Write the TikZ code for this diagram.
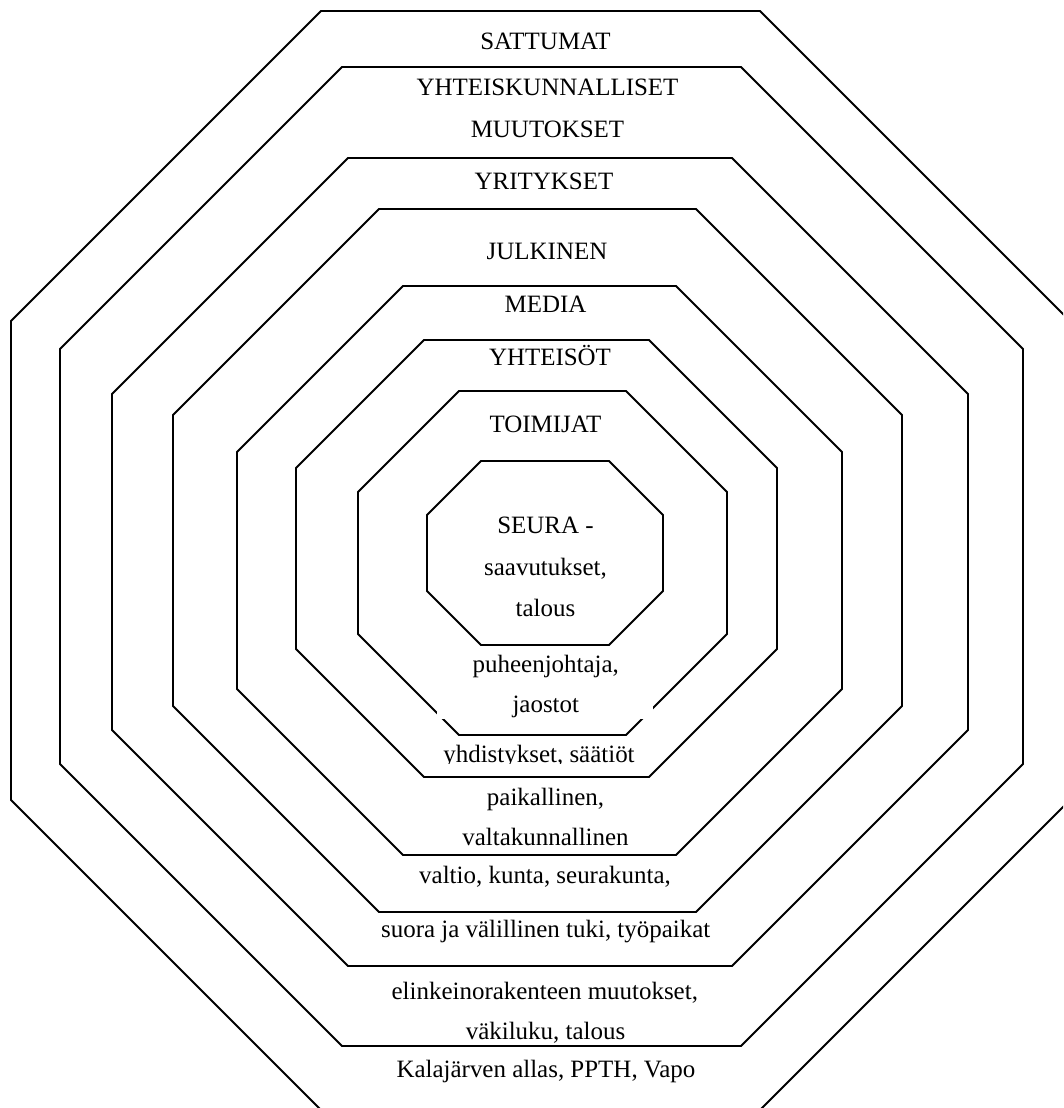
\documentclass[tikz,border=0pt]{standalone}
\usepackage{fontspec}
\setmainfont{Liberation Serif}

\begin{document}
\begin{tikzpicture}[x = 0.1mm, y = -0.1mm, line width = 0.55pt]
    \useasboundingbox (0,0) rectangle (1063,1108);
    \clip (0,0) rectangle (1063,1108);
    \draw [color = black] (321,11) -- (760,11) -- (1070,321) -- (1070,800) -- (760,1110) -- (321,1110) -- (11,800) -- (11,321) -- cycle;
    \draw [color = black] (342,67) -- (741,67) -- (1023,349) -- (1023,764) -- (741,1046) -- (342,1046) -- (60,764) -- (60,349) -- cycle;
    \draw [color = black] (348,158) -- (732,158) -- (968,394) -- (968,730) -- (732,966) -- (348,966) -- (112,730) -- (112,394) -- cycle;
    \draw [color = black] (379,209) -- (696,209) -- (902,415) -- (902,706) -- (696,912) -- (379,912) -- (173,706) -- (173,415) -- cycle;
    \draw [color = black] (403,286) -- (676,286) -- (842,452) -- (842,689) -- (676,855) -- (403,855) -- (237,689) -- (237,452) -- cycle;
    \draw [color = black] (424,340) -- (649,340) -- (777,468) -- (777,649) -- (649,777) -- (424,777) -- (296,649) -- (296,468) -- cycle;
    \draw [color = black] (459,391) -- (626,391) -- (727,492) -- (727,634) -- (626,735) -- (459,735) -- (358,634) -- (358,492) -- cycle;
    \draw [color = black] (481,461) -- (609,461) -- (663,515) -- (663,591) -- (609,645) -- (481,645) -- (427,591) -- (427,515) -- cycle;
    \fill [color = white] (437,648) rectangle (653,718.5);
    \begin{scope}[font = {\fontsize{7.1pt}{8.5pt}\selectfont}]
        \node (sattumat) [anchor = base] at (545.5,49.5) {SATTUMAT};
        \node (yhteiskunta) [anchor = base] at (547.5,95.6) {YHTEISKUNNALLISET};
        \node (muutokset) [anchor = base] at (547.5,137.7) {MUUTOKSET};
        \node (yritykset) [anchor = base] at (544,190) {YRITYKSET};
        \node (julkinen) [anchor = base] at (547,259.6) {JULKINEN};
        \node (media) [anchor = base] at (545.5,312.6) {MEDIA};
        \node (yhteisot) [anchor = base] at (550,365) {YHTEISÖT};
        \node (toimijat) [anchor = base] at (545.5,432) {TOIMIJAT};
        \node (seura) [anchor = base] at (545.5,533) {SEURA -};
        \node (saavutukset) [anchor = base] at (545.5,575) {saavutukset,};
        \node (talous) [anchor = base] at (545.5,616) {talous};
        \node (puheenjohtaja) [anchor = base] at (545.8,672.3) {puheenjohtaja,};
        \node (jaostot) [anchor = base] at (545.8,712.7) {jaostot};
        \begin{scope}
            \clip (380,736) rectangle (700,763.5);
            \node (yhdistykset) [anchor = base] at (539,762.7) {yhdistykset, säätiöt};
        \end{scope}
        \node (paikallinen) [anchor = base] at (545.5,805) {paikallinen,};
        \node (valtakunnallinen) [anchor = base] at (545.5,845.5) {valtakunnallinen};
        \node (valtio) [anchor = base] at (545,883.3) {valtio, kunta, seurakunta,};
        \node (tuki) [anchor = base] at (545.7,937.3) {suora ja välillinen tuki, työpaikat};
        \node (elinkeino) [anchor = base] at (544.8,999.2) {elinkeinorakenteen muutokset,};
        \node (vakiluku) [anchor = base] at (545.5,1039.8) {väkiluku, talous};
        \node (kalajarvi) [anchor = base] at (545.9,1077.6) {Kalajärven allas, PPTH, Vapo};
    \end{scope}
\end{tikzpicture}
\end{document}
